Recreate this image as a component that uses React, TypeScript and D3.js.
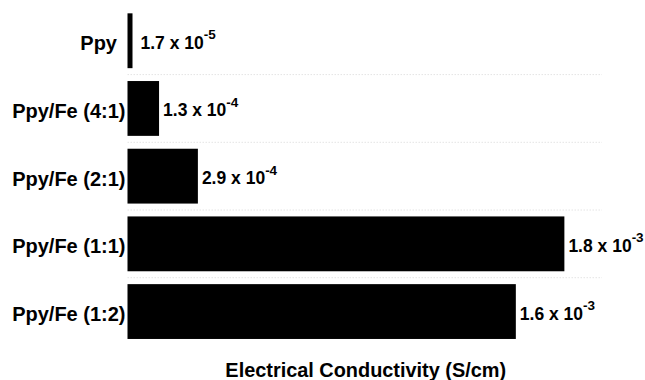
import React from "react";
import * as d3 from "d3";

// Samples and their measured electrical conductivity (S/cm)
const categories = ["Ppy", "Ppy/Fe (4:1)", "Ppy/Fe (2:1)", "Ppy/Fe (1:1)", "Ppy/Fe (1:2)"];
const conductivity = [1.7e-5, 1.3e-4, 2.9e-4, 1.8e-3, 1.6e-3];
// Label text as mantissa and power of ten
const mantissas = ["1.7", "1.3", "2.9", "1.8", "1.6"];
const exponents = ["-5", "-4", "-4", "-3", "-3"];
const axisTitle = "Electrical Conductivity (S/cm)";

const W = 645;
const H = 380;
const FONT = "Liberation Sans, Arial, Helvetica, sans-serif";

export default function App() {
  const x = d3.scaleLinear().domain([0, 0.001955]).range([127.5, 602]);
  const y = d3
    .scaleBand<string>()
    .domain(categories)
    .range([6.9, 345.4])
    .paddingInner(0.19)
    .paddingOuter(0.095);

  const step = y.step();
  const separators = categories.slice(1).map((c) => (y(c) as number) - (step - y.bandwidth()) / 2);

  return (
    <svg
      width={W}
      height={H}
      style={{ position: "absolute", left: 0, top: 0, background: "#fff" }}
      fontFamily={FONT}
    >
      {separators.map((sy, i) => (
        <line
          key={"sep" + i}
          x1={x.range()[0]}
          x2={x.range()[1]}
          y1={sy}
          y2={sy}
          stroke="#e4e4e4"
          strokeWidth={1}
          strokeDasharray="1.5,1.5"
        />
      ))}
      {categories.map((c, i) => {
        const top = y(c) as number;
        const bw = y.bandwidth();
        const cy = top + bw / 2;
        const w = Math.max(5, x(conductivity[i]) - x(0));
        const end = x(0) + w;
        return (
          <g key={c}>
            <rect x={x(0)} y={top} width={w} height={bw} fill="#000" />
            <text
              x={i === 0 ? 117 : 125.5}
              y={cy + 9.5}
              textAnchor="end"
              fontSize={20}
              fontWeight="bold"
              fill="#000"
            >
              {c}
            </text>
            <text x={end + (i === 0 ? 8 : 4)} y={cy + 8} fontSize={17.5} fontWeight="bold" fill="#000">
              {mantissas[i] + " x 10"}
              <tspan fontSize={13.5} dy={-9.5}>
                {exponents[i]}
              </tspan>
            </text>
          </g>
        );
      })}
      <text
        x={(x.range()[0] + x.range()[1]) / 2 + 1}
        y={377}
        textAnchor="middle"
        fontSize={19.9}
        fontWeight="bold"
        fill="#000"
      >
        {axisTitle}
      </text>
    </svg>
  );
}
